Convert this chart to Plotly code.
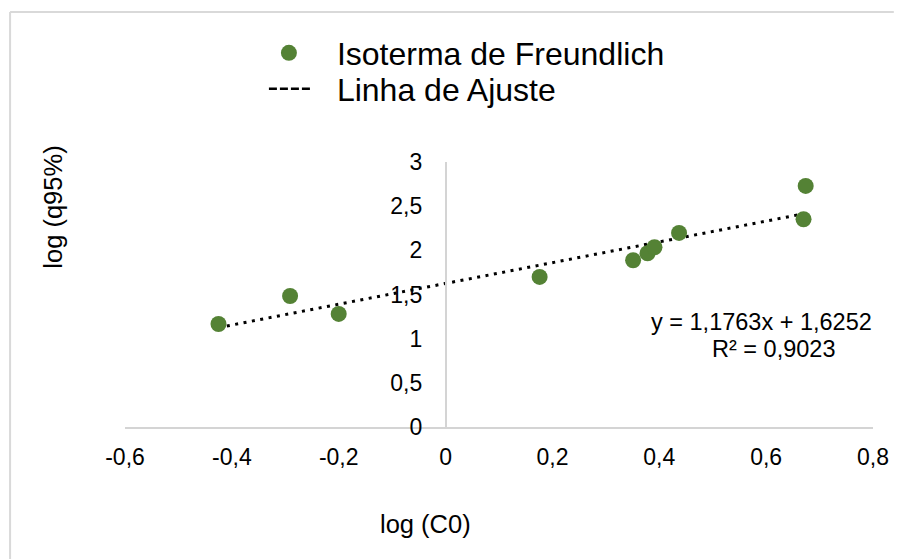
import plotly.graph_objects as go

# ---- data ----
log_c0 = [-0.425, -0.291, -0.200, 0.176, 0.351, 0.378, 0.391, 0.437, 0.674, 0.670]
log_q95 = [1.166, 1.483, 1.280, 1.699, 1.888, 1.967, 2.035, 2.197, 2.729, 2.352]

fit_slope = 1.1763
fit_intercept = 1.6252
fit_r2 = 0.9023

x_ticks = [-0.6, -0.4, -0.2, 0, 0.2, 0.4, 0.6, 0.8]
x_tick_labels = ["-0,6", "-0,4", "-0,2", "0", "0,2", "0,4", "0,6", "0,8"]
y_ticks = [0, 0.5, 1, 1.5, 2, 2.5, 3]
y_tick_labels = ["0", "0,5", "1", "1,5", "2", "2,5", "3"]

series_name = "Isoterma de Freundlich"
fit_name = "Linha de Ajuste"
x_title = "log (C0)"
y_title = "log (q95%)"

# ---- layout geometry (body margin removed, so page px == figure px) ----
W, H = 901, 559
# plot area in page pixels: x 125..880, y 162..427
ML, MT = 125, 162
MR = W - 880
MB = H - 427
x_range = [-0.6, 0.8]
y_range = [0, 3]
FONT = "Liberation Sans, Arial, sans-serif"
GREEN = "#548235"
AXIS_GRAY = "#d4d4d4"

pw = W - ML - MR
ph = H - MT - MB


def page_to_paper(px, py):
    return (px - ML) / pw, (H - MB - py) / ph


fit_x = [min(log_c0), max(log_c0)]
fit_y = [fit_slope * v + fit_intercept for v in fit_x]

fig = go.Figure()
fig.add_trace(go.Scatter(
    x=fit_x, y=fit_y, mode="lines", name=fit_name, showlegend=False,
    line=dict(color="black", width=3, dash="3px,5.5px"),
    hoverinfo="skip",
))
fig.add_trace(go.Scatter(
    x=log_c0, y=log_q95, mode="markers", name=series_name,
    marker=dict(color=GREEN, size=16, line=dict(width=0)),
    legend="legend",
))
# legend entry for the fit line (short dashed symbol as in the reference)
fig.add_trace(go.Scatter(
    x=[None], y=[None], mode="lines", name=fit_name,
    line=dict(color="black", width=2.5,
              dash="0px,23px,8px,3px,8px,3px,8px,3px,8px,23px"),
    legend="legend2",
))

y_pos = (0 - x_range[0]) / (x_range[1] - x_range[0])

lx, ly1 = page_to_paper(242, 53)
_, ly2 = page_to_paper(242, 89)
legend_common = dict(
    font=dict(family=FONT, size=32, color="black"),
    bgcolor="rgba(0,0,0,0)", borderwidth=0,
    xanchor="left", yanchor="middle", itemwidth=86,
)

fig.update_layout(
    width=W, height=H,
    margin=dict(l=ML, r=MR, t=MT, b=MB, pad=0),
    paper_bgcolor="white", plot_bgcolor="white",
    font=dict(family=FONT, color="black"),
    xaxis=dict(
        range=x_range, tickvals=x_ticks, ticktext=x_tick_labels,
        showgrid=False, zeroline=False, showline=True,
        linecolor=AXIS_GRAY, linewidth=1.5, ticks="",
        tickfont=dict(family=FONT, size=23, color="black"),
        ticklabelstandoff=9,
    ),
    yaxis=dict(
        range=y_range, tickvals=y_ticks, ticktext=y_tick_labels,
        showgrid=False, zeroline=False, showline=True,
        linecolor=AXIS_GRAY, linewidth=1.5, ticks="",
        anchor="free", position=y_pos,
        tickfont=dict(family=FONT, size=23, color="black"),
        ticklabelstandoff=18,
    ),
    legend=dict(x=lx, y=ly1, **legend_common),
    legend2=dict(x=lx, y=ly2, **legend_common),
    showlegend=True,
)

ax, ay = page_to_paper(428, 524)
fig.add_annotation(text=x_title, xref="paper", yref="paper", x=ax, y=ay,
                   showarrow=False, font=dict(family=FONT, size=25.5, color="black"),
                   xanchor="center", yanchor="middle")
bx, by = page_to_paper(52, 207)
fig.add_annotation(text=y_title, xref="paper", yref="paper", x=bx, y=by,
                   textangle=-90, showarrow=False,
                   font=dict(family=FONT, size=25.5, color="black"),
                   xanchor="center", yanchor="middle")

eq_text = "y = {}x + {}".format(str(fit_slope).replace(".", ","), str(fit_intercept).replace(".", ","))
r2_text = "R² = {}".format(str(fit_r2).replace(".", ","))
ex1, ey1 = page_to_paper(767, 322)
ex2, ey2 = page_to_paper(780, 349)
fig.add_annotation(text=eq_text, xref="paper", yref="paper", x=ex1, y=ey1,
                   showarrow=False, font=dict(family=FONT, size=23.5, color="black"),
                   xanchor="center", yanchor="middle")
fig.add_annotation(text=r2_text, xref="paper", yref="paper", x=ex2, y=ey2,
                   showarrow=False, font=dict(family=FONT, size=23.5, color="black"),
                   xanchor="center", yanchor="middle")

# chart-area frame: only its top and left edges are visible; kept inside the figure
fl, ft = page_to_paper(9, 12)
fr, fb = page_to_paper(W, H)
fig.add_shape(type="line", xref="paper", yref="paper",
              x0=fl, y0=ft, x1=fr, y1=ft,
              line=dict(color="#d9d9d9", width=2), layer="below")
fig.add_shape(type="line", xref="paper", yref="paper",
              x0=fl, y0=ft, x1=fl, y1=fb,
              line=dict(color="#d9d9d9", width=2), layer="below")

fig.write_html(
    "out.html",
    config={"displayModeBar": False},
    post_script="document.body.style.margin='0px';document.body.style.overflow='hidden';",
)
